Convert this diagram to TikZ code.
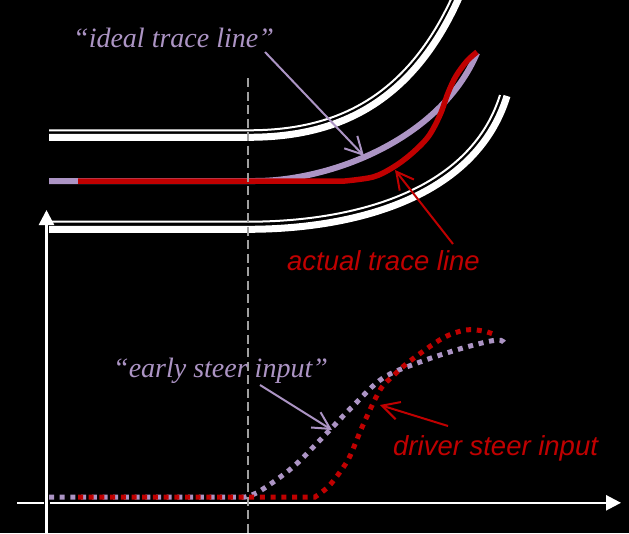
\documentclass[tikz,border=0pt]{standalone}
\usepackage{fontspec}
\setmainfont{Liberation Serif}
\newfontfamily\arialfont{Liberation Sans}
\usetikzlibrary{arrows.meta}
\definecolor{lav}{HTML}{AC94C4}
\definecolor{dred}{HTML}{C00000}
\definecolor{dgray}{HTML}{A0A0A0}
\tikzset{
  roadthick/.style={white, line width=7pt},
  roadthin/.style={white, line width=2pt},
  callout/.style={line width=2pt, -{Straight Barb[length=17pt,width=18pt]}},
  axisline/.style={white, line width=2.5pt, -{Triangle[length=15pt,width=15pt]}},
  dotline/.style={line width=5pt, dash pattern=on 5pt off 5.7pt},
  serlbl/.style={anchor=base west, inner sep=0pt, text=lav, font=\fontsize{28}{30}\selectfont\itshape},
  sanlbl/.style={anchor=base west, inner sep=0pt, text=dred, font=\arialfont\fontsize{27.5}{30}\selectfont\itshape},
}
\begin{document}
\begin{tikzpicture}[x=1pt,y=-1pt]
\fill[black] (0,0) rectangle (629,533);
\useasboundingbox (0,0) rectangle (629,533);
\begin{scope}
\clip (0,0) rectangle (629,533);
% road edges
\draw[roadthick] (49,137.3) -- (248,137.3) .. controls (330,137.3) and (420,110) .. (470,-30);
\draw[roadthin] (49,130.3) -- (248,130.3) .. controls (329,130.3) and (414,104) .. (464,-32);
\draw[roadthick] (49,229.3) -- (248,229.3) .. controls (350,229.3) and (475,200) .. (507,96);
\draw[roadthin] (49,221.7) -- (248,221.7) .. controls (348,221.7) and (469,194) .. (500,95);
\end{scope}
% trace lines
\draw[lav, line width=6pt] (49,181) -- (255,181) .. controls (330,181) and (440,140) .. (477,53);
\draw[dred, line width=5.5pt, line join=round] (78,181) -- (345,181) -- plot[smooth, tension=0.55] coordinates {(345,181) (373,177) (392,168) (410,155) (428,137) (440,115) (448,93) (456,76) (467,61) (477,52)};
% steer input curves
\draw[lav, dotline] (49,497) -- (245,497) -- plot[smooth, tension=0.55] coordinates {(245,497) (260,491) (293,467) (323,437) (353,406) (383,378) (420,362) (463,348) (497,340) (505,344)};
\draw[dred, dotline] (78,497) -- (315,497) -- plot[smooth, tension=0.55] coordinates {(315,497) (328,487) (340,472) (350,456) (363,425) (380,390) (393,376) (410,361) (443,338) (466,330) (483,331) (496,335)};
% axes
\coordinate (yfoot) at (46.5,533);
\coordinate (ytip) at (46.5,210);
\coordinate (xstub) at (17,502.8);
\coordinate (xstubend) at (44,502.8);
\coordinate (xfoot) at (50,502.8);
\coordinate (xtip) at (621,502.8);
\draw[axisline] (yfoot) -- (ytip);
\draw[white, line width=2.5pt] (xstub) -- (xstubend);
\draw[axisline] (xfoot) -- (xtip);
% dashed marker
\coordinate (dtop) at (248,78);
\coordinate (dbot) at (248,533);
\draw[dgray, line width=2pt, dash pattern=on 9pt off 4.5pt] (dtop) -- (dbot);
% labels
\node[serlbl] (ideal) at (73,47) {“ideal trace line”};
\node[sanlbl] (actual) at (287,270) {actual trace line};
\node[serlbl] (early) at (113,377) {“early steer input”};
\node[sanlbl] (driver) at (393,455) {driver steer input};
% callouts
\coordinate (idealfrom) at (265,52);
\coordinate (idealto) at (364,156);
\coordinate (actualfrom) at (453,244);
\coordinate (actualto) at (395,170);
\coordinate (earlyfrom) at (260,385);
\coordinate (earlyto) at (332,430);
\coordinate (driverfrom) at (448,426);
\coordinate (driverto) at (380,405);
\draw[callout, lav] (idealfrom) -- (idealto);
\draw[callout, dred] (actualfrom) -- (actualto);
\draw[callout, lav] (earlyfrom) -- (earlyto);
\draw[callout, dred] (driverfrom) -- (driverto);
\end{tikzpicture}
\end{document}
